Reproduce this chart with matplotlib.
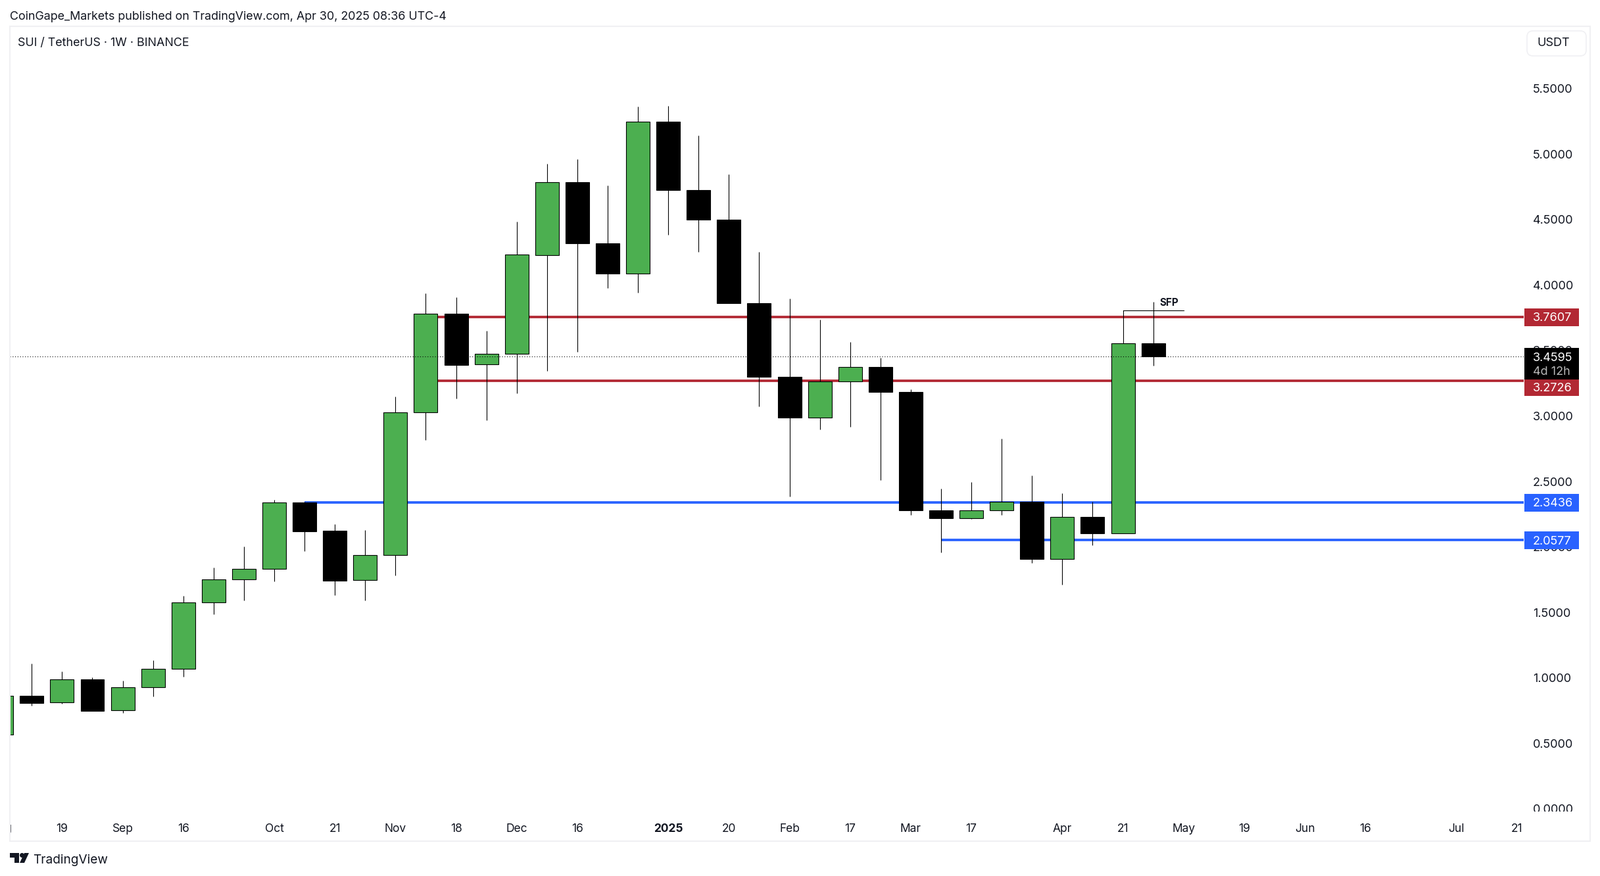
import matplotlib
matplotlib.use("Agg")
import matplotlib.pyplot as plt
from matplotlib.patches import Rectangle, Polygon, Circle, FancyBboxPatch
from matplotlib.transforms import Affine2D, Bbox
import numpy as np

# weekly candles, first one is cut off by the left edge of the panel
weeks = list(range(-1, 38))
highs = [0.90, 1.113, 1.054, 1.009, 0.984, 1.140, 1.632, 1.848, 2.009, 2.366, 2.351, 2.180, 2.135, 3.154,
         3.943, 3.913, 3.657, 4.491, 4.933, 4.968, 4.767, 5.370, 5.375, 5.149, 4.852, 4.260, 3.903, 3.742,
         3.571, 3.451, 3.210, 2.451, 2.501, 2.833, 2.552, 2.416, 2.351, 3.814, 3.878]
tops = [0.867, 0.867, 0.993, 0.993, 0.932, 1.073, 1.580, 1.756, 1.837, 2.344, 2.344, 2.130, 1.942, 3.032,
        3.786, 3.786, 3.479, 4.238, 4.791, 4.791, 4.326, 5.253, 5.253, 4.733, 4.507, 3.868, 3.305, 3.268,
        3.380, 3.380, 3.189, 2.286, 2.286, 2.349, 2.349, 2.234, 2.234, 3.560, 3.560]
bottoms = [0.571, 0.815, 0.817, 0.755, 0.757, 0.932, 1.073, 1.580, 1.756, 1.837, 2.126, 1.749, 1.751, 1.942,
           3.032, 3.397, 3.399, 3.479, 4.233, 4.326, 4.095, 4.095, 4.733, 4.507, 3.868, 3.305, 2.994, 2.996,
           3.268, 3.189, 2.286, 2.226, 2.226, 2.286, 1.915, 1.915, 2.109, 2.109, 3.4595]
lows = [0.55, 0.795, 0.810, 0.755, 0.739, 0.865, 1.016, 1.493, 1.599, 1.744, 1.975, 1.639, 1.599, 1.789,
        2.824, 3.141, 2.975, 3.181, 3.352, 3.497, 3.985, 3.950, 4.392, 4.261, 3.868, 3.080, 2.392, 2.905,
        2.924, 2.518, 2.252, 1.965, 2.221, 2.252, 1.885, 1.719, 2.021, 2.109, 3.392]
is_up = [True, False, True, False, True, True, True, True, True, True, False, False, True, True,
         True, False, True, True, True, False, False, True, False, False, False, False, False, True,
         True, False, False, False, True, True, False, True, False, True, False]

price_ticks = [0.0, 0.5, 1.0, 1.5, 2.0, 2.5, 3.0, 3.5, 4.0, 4.5, 5.0, 5.5]
time_ticks = [1, 3, 5, 8, 10, 12, 14, 16, 18, 21, 23, 25, 27, 29, 31, 34, 36, 38, 40, 42, 44, 47, 49]
time_labels = ["19", "Sep", "16", "Oct", "21", "Nov", "18", "Dec", "16", "2025", "20", "Feb", "17", "Mar", "17",
               "Apr", "21", "May", "19", "Jun", "16", "Jul", "21"]

last_price = 3.4595
red_levels = [3.7607, 3.2726]
red_start = 13
blue_levels = [2.3436, 2.0577]
blue_starts = [9, 30]
sfp_level = 3.814

GREEN = "#4CAF50"
RED = "#B22833"
BLUE = "#2962FF"
TEXT = "#131722"
BORDER = "#F0F0F3"

W, H = 2433, 1332
plt.rcParams["font.family"] = "Inter"
fig = plt.figure(figsize=(W / 100, H / 100), dpi=100, facecolor="white")
px = Affine2D().scale(1, -1).translate(0, H)  # pixel coords from top left

# plot area runs 15..2317 across, 40..1235 down
ax = fig.add_axes([15 / W, 1 - 1235 / H, (2317 - 15) / W, (1235 - 40) / H])
ax.set_xlim((15 - 48.3) / 46.09, (2317 - 48.3) / 46.09)
ax.set_ylim((1230.9 - 1235) / 199.06, (1230.9 - 40) / 199.06)
for s in ax.spines.values():
    s.set_visible(False)

# levels
for lvl in red_levels:
    ax.plot([red_start, 60], [lvl, lvl], color=RED, lw=2.7, solid_capstyle="butt", zorder=1)
for lvl, st in zip(blue_levels, blue_starts):
    ax.plot([st, 60], [lvl, lvl], color=BLUE, lw=2.7, solid_capstyle="butt", zorder=1)

# candles
ax.vlines(weeks, lows, highs, color="black", lw=0.8, zorder=2)
heights = np.array(tops) - np.array(bottoms)
colors = [GREEN if u else "black" for u in is_up]
ax.bar(weeks, heights, bottom=bottoms, width=0.78, color=colors, edgecolor="black", linewidth=0.8, zorder=3)

ax.axhline(last_price, color="black", lw=0.8, ls=(0, (1, 2.4)), zorder=4)

# SFP marker
ax.plot([36, 38], [sfp_level, sfp_level], color="black", lw=0.8, zorder=4)
ax.annotate("SFP", xy=(37.22, 3.872), xycoords="data", fontsize=11, fontweight="bold", color=TEXT,
            ha="left", va="center", zorder=6)

# price axis
ax.yaxis.tick_right()
ax.set_yticks(price_ticks)
ax.set_yticklabels(["%.4f" % p for p in price_ticks])
ax.tick_params(axis="y", length=0, pad=10, labelsize=13, labelcolor=TEXT)
ax.set_xticks(time_ticks)
ax.set_xticklabels(time_labels)
ax.tick_params(axis="x", length=0, pad=12, labelsize=12.5, labelcolor=TEXT)
ax.get_xticklabels()[time_labels.index("2025")].set_fontweight("bold")
fig.canvas.draw()
for lab in ax.get_yticklabels():
    lab.set_verticalalignment("center_baseline")
    lab.set_transform(lab.get_transform() + Affine2D().translate(0, 1.2))
    # 0.0000 is cut by the time scale
    if lab.get_text() == "0.0000":
        lab.set_clip_box(Bbox([[0, H - 1234], [W, H]]))
        lab.set_clip_on(True)

# "Aug" only shows its last letter at the panel edge
aug = ax.text(-1, -24 / 1195, "Aug", transform=ax.get_xaxis_transform(), ha="center", va="center", fontsize=12.5,
              color=TEXT)
aug.set_clip_box(Bbox([[15, 0], [W, H]]))
aug.set_clip_on(True)


def price_tag(price, color, top, bottom, lines):
    tr = ax.get_yaxis_transform()
    x0 = 1 + 1 / 2302
    w = 83 / 2302
    y_top = (1230.9 - top) / 199.06
    y_bot = (1230.9 - bottom) / 199.06
    r = Rectangle((x0, y_bot), w, y_top - y_bot, transform=tr, facecolor=color, edgecolor="none", clip_on=False, zorder=5)
    ax.add_patch(r)
    for txt, y, c in lines:
        ax.text(1 + 14 / 2302, (1230.9 - y) / 199.06, txt, transform=tr, color=c, fontsize=13, va="center", ha="left",
                clip_on=False, zorder=6)


price_tag(red_levels[0], RED, 469, 496, [("3.7607", 484, "white")])
price_tag(last_price, "black", 529, 577, [("3.4595", 544.5, "white"), ("4d 12h", 565.5, "#B8B8B8")])
price_tag(red_levels[1], RED, 577, 602, [("3.2726", 590.5, "white")])
price_tag(blue_levels[0], BLUE, 751, 778, [("2.3436", 766, "white")])
price_tag(blue_levels[1], BLUE, 808, 835, [("2.0577", 823, "white")])

# panel frame and header
fig.add_artist(Rectangle((15, 40), 2403, 1239, transform=px, fill=False, edgecolor=BORDER, lw=1.5))
fig.text(15, 25, "CoinGape_Markets published on TradingView.com, Apr 30, 2025 08:36 UTC-4", transform=px,
         fontsize=12.85, color="#131722", va="center", ha="left")
fig.text(27, 66, "SUI / TetherUS · 1W · BINANCE", transform=px, fontsize=12.85, color=TEXT, va="center", ha="left")
fig.add_artist(FancyBboxPatch((2322, 47), 90, 38, boxstyle="round,pad=0,rounding_size=9", transform=px,
                              facecolor="white", edgecolor=BORDER, lw=1.2))
fig.text(2337, 66, "USDT", transform=px, fontsize=13, color=TEXT, va="center", ha="left")

# TradingView logo
fig.add_artist(Polygon([(15, 1297), (29, 1297), (29, 1312), (22, 1312), (22, 1304), (15, 1304)], transform=px,
                       facecolor=TEXT, edgecolor="none"))
fig.add_artist(Circle((33.5, 1300.5), 3.5, transform=px, facecolor=TEXT, edgecolor="none"))
fig.add_artist(Polygon([(37, 1297), (44, 1297), (37, 1312), (30, 1312)], transform=px, facecolor=TEXT, edgecolor="none"))
fig.text(50, 1308, "TradingView", transform=px, fontsize=13.7, color=TEXT, va="center", ha="left")

fig.savefig("out.png", dpi=100, facecolor="white")
